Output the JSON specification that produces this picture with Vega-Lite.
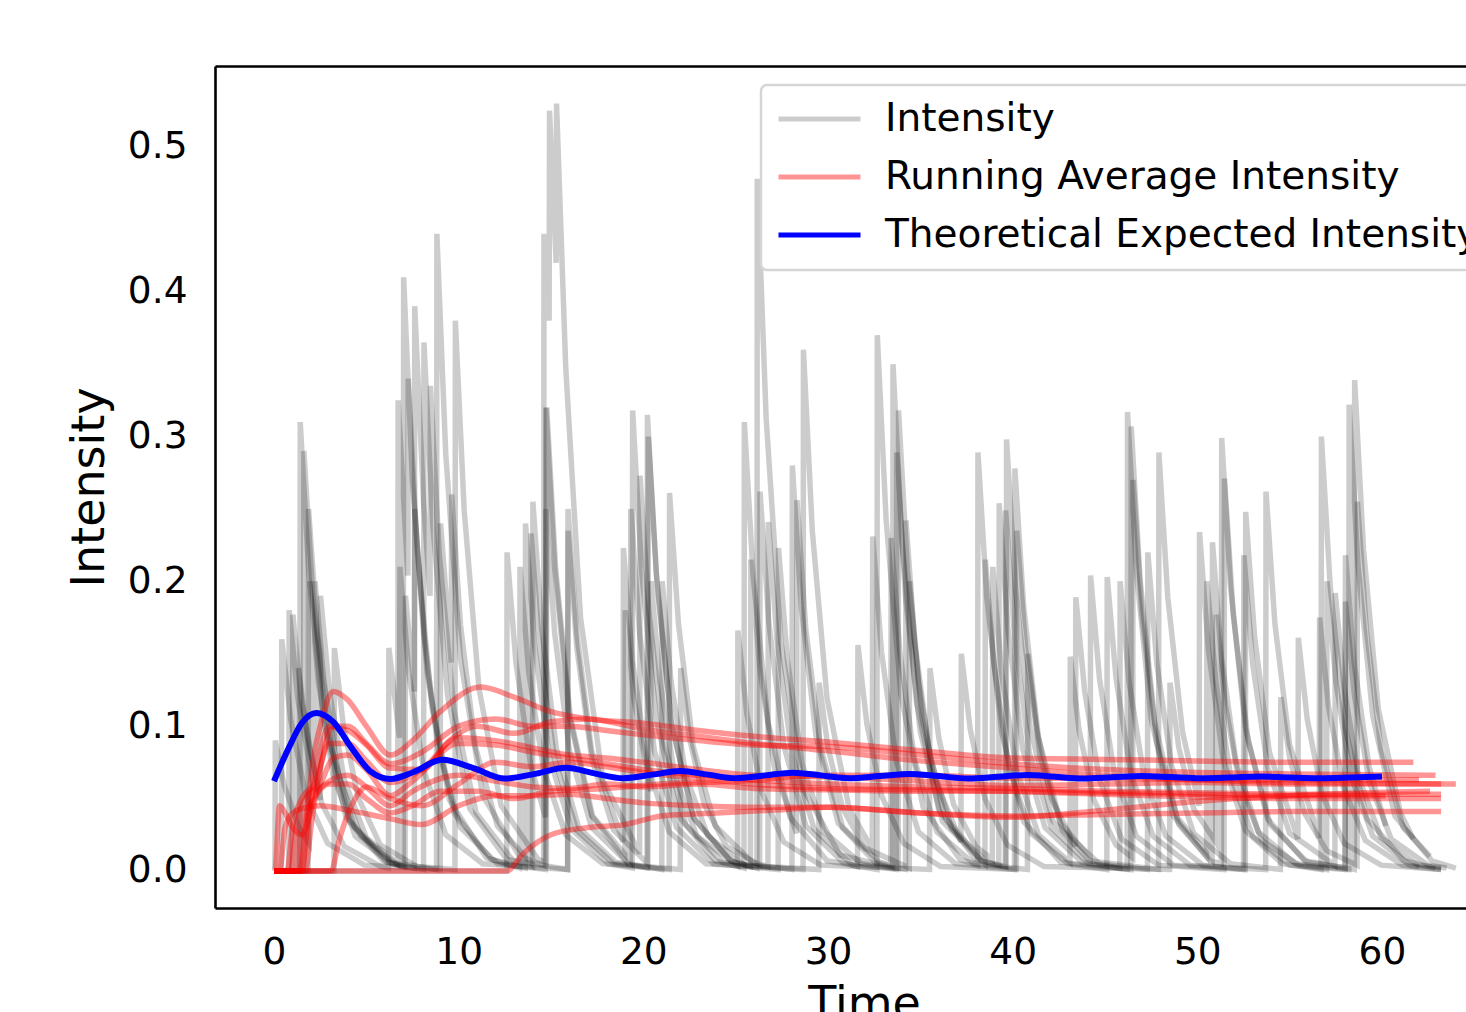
{
"$schema": "https://vega.github.io/schema/vega-lite/v6.json",
"width": 1251, "height": 842,
"autosize": {"type": "none"},
"padding": {"left": 215, "top": 66, "right": 0, "bottom": 104},
"background": "white",
"config": {
 "view": {"stroke": null},
 "font": "DejaVu Sans",
 "axis": {"grid": false, "ticks": false, "domainColor": "black", "domainWidth": 2.6, "labelColor": "black", "labelFontSize": 37.5, "labelFont": "DejaVu Sans", "titleFont": "DejaVu Sans", "titleFontSize": 46, "titleFontWeight": "normal", "titleColor": "black"},
 "legend": {"strokeWidth": 2.5}
},
"datasets": {
"gray": [
{"s":1,"t":0,"v":0},{"s":1,"t":1.4,"v":0},{"s":1,"t":1.42,"v":0.31},{"s":1,"t":1.9,"v":0.203},{"s":1,"t":2.7,"v":0.103},{"s":1,"t":3.9,"v":0.037},{"s":1,"t":5.9,"v":0.007},{"s":1,"t":7,"v":0.003},{"s":1,"t":7.02,"v":0.41},{"s":1,"t":7.5,"v":0.268},{"s":1,"t":8.3,"v":0.136},{"s":1,"t":9.5,"v":0.049},{"s":1,"t":11.5,"v":0.009},{"s":1,"t":13.6,"v":0.002},{"s":1,"t":13.62,"v":0.24},{"s":1,"t":14.1,"v":0.157},{"s":1,"t":14.9,"v":0.079},{"s":1,"t":16.1,"v":0.029},{"s":1,"t":18.1,"v":0.005},{"s":1,"t":19.4,"v":0.002},{"s":1,"t":19.42,"v":0.318},{"s":1,"t":19.9,"v":0.208},{"s":1,"t":20.7,"v":0.105},{"s":1,"t":21.9,"v":0.038},{"s":1,"t":23.9,"v":0.007},{"s":1,"t":25.45,"v":0.002},{"s":1,"t":25.47,"v":0.31},{"s":1,"t":25.95,"v":0.203},{"s":1,"t":26.75,"v":0.103},{"s":1,"t":27.95,"v":0.037},{"s":1,"t":29.95,"v":0.007},{"s":1,"t":32.65,"v":0.001},{"s":1,"t":32.67,"v":0.37},{"s":1,"t":33.15,"v":0.242},{"s":1,"t":33.95,"v":0.122},{"s":1,"t":35.15,"v":0.044},{"s":1,"t":37.15,"v":0.008},{"s":1,"t":38.1,"v":0.004},{"s":1,"t":38.12,"v":0.289},{"s":1,"t":38.6,"v":0.189},{"s":1,"t":39.4,"v":0.096},{"s":1,"t":40.6,"v":0.034},{"s":1,"t":42.6,"v":0.006},{"s":1,"t":46.2,"v":0.001},{"s":1,"t":46.22,"v":0.317},{"s":1,"t":46.7,"v":0.207},{"s":1,"t":47.5,"v":0.105},{"s":1,"t":48.7,"v":0.038},{"s":1,"t":50.7,"v":0.007},{"s":1,"t":51.3,"v":0.005},{"s":1,"t":51.32,"v":0.299},{"s":1,"t":51.8,"v":0.196},{"s":1,"t":52.6,"v":0.099},{"s":1,"t":53.8,"v":0.036},{"s":1,"t":55.8,"v":0.007},{"s":1,"t":58.5,"v":0.001},{"s":1,"t":58.52,"v":0.339},{"s":1,"t":59,"v":0.222},{"s":1,"t":59.8,"v":0.112},{"s":1,"t":61,"v":0.04},{"s":1,"t":61.7,"v":0.022},
{"s":2,"t":0,"v":0},{"s":2,"t":1.6,"v":0},{"s":2,"t":1.62,"v":0.29},{"s":2,"t":2.1,"v":0.19},{"s":2,"t":2.9,"v":0.096},{"s":2,"t":4.1,"v":0.035},{"s":2,"t":6.1,"v":0.006},{"s":2,"t":7.6,"v":0.002},{"s":2,"t":7.62,"v":0.39},{"s":2,"t":8.1,"v":0.255},{"s":2,"t":8.45,"v":0.19},{"s":2,"t":8.47,"v":0.335},{"s":2,"t":8.95,"v":0.219},{"s":2,"t":9.75,"v":0.111},{"s":2,"t":10.95,"v":0.04},{"s":2,"t":12.95,"v":0.007},{"s":2,"t":14,"v":0.003},{"s":2,"t":14.02,"v":0.255},{"s":2,"t":14.5,"v":0.167},{"s":2,"t":15.3,"v":0.084},{"s":2,"t":16.5,"v":0.03},{"s":2,"t":18.5,"v":0.006},{"s":2,"t":20.2,"v":0.002},{"s":2,"t":20.22,"v":0.315},{"s":2,"t":20.7,"v":0.206},{"s":2,"t":21.5,"v":0.104},{"s":2,"t":22.7,"v":0.037},{"s":2,"t":24.7,"v":0.007},{"s":2,"t":26.15,"v":0.002},{"s":2,"t":26.17,"v":0.478},{"s":2,"t":26.65,"v":0.313},{"s":2,"t":27.45,"v":0.158},{"s":2,"t":28.65,"v":0.057},{"s":2,"t":30.65,"v":0.011},{"s":2,"t":33.5,"v":0.002},{"s":2,"t":33.52,"v":0.35},{"s":2,"t":34,"v":0.229},{"s":2,"t":34.8,"v":0.116},{"s":2,"t":36,"v":0.042},{"s":2,"t":38,"v":0.008},{"s":2,"t":39.65,"v":0.003},{"s":2,"t":39.67,"v":0.298},{"s":2,"t":40.15,"v":0.195},{"s":2,"t":40.95,"v":0.099},{"s":2,"t":42.15,"v":0.035},{"s":2,"t":44.15,"v":0.007},{"s":2,"t":47.9,"v":0.001},{"s":2,"t":47.92,"v":0.289},{"s":2,"t":48.4,"v":0.189},{"s":2,"t":49.2,"v":0.096},{"s":2,"t":50.1,"v":0.045},{"s":2,"t":50.12,"v":0.234},{"s":2,"t":50.6,"v":0.153},{"s":2,"t":51.4,"v":0.077},{"s":2,"t":52.6,"v":0.028},{"s":2,"t":54.6,"v":0.005},{"s":2,"t":56.7,"v":0.001},{"s":2,"t":56.72,"v":0.3},{"s":2,"t":57.2,"v":0.196},{"s":2,"t":58,"v":0.099},{"s":2,"t":59.2,"v":0.036},{"s":2,"t":61.2,"v":0.007},{"s":2,"t":62.9,"v":0.002},
{"s":3,"t":0,"v":0},{"s":3,"t":1.85,"v":0},{"s":3,"t":1.87,"v":0.25},{"s":3,"t":2.35,"v":0.164},{"s":3,"t":3.15,"v":0.083},{"s":3,"t":4.35,"v":0.03},{"s":3,"t":6.35,"v":0.006},{"s":3,"t":8.8,"v":0.001},{"s":3,"t":8.82,"v":0.44},{"s":3,"t":9.3,"v":0.288},{"s":3,"t":10.1,"v":0.146},{"s":3,"t":11.3,"v":0.052},{"s":3,"t":13.3,"v":0.01},{"s":3,"t":14.6,"v":0.004},{"s":3,"t":14.62,"v":0.44},{"s":3,"t":14.9,"v":0.38},{"s":3,"t":14.92,"v":0.525},{"s":3,"t":15.28,"v":0.42},{"s":3,"t":15.3,"v":0.53},{"s":3,"t":15.8,"v":0.347},{"s":3,"t":16.6,"v":0.175},{"s":3,"t":17.8,"v":0.063},{"s":3,"t":19.8,"v":0.012},{"s":3,"t":19.82,"v":0.273},{"s":3,"t":20.3,"v":0.179},{"s":3,"t":21.1,"v":0.09},{"s":3,"t":22.3,"v":0.032},{"s":3,"t":24.3,"v":0.006},{"s":3,"t":28.05,"v":0.001},{"s":3,"t":28.07,"v":0.28},{"s":3,"t":28.55,"v":0.183},{"s":3,"t":29.35,"v":0.093},{"s":3,"t":30.55,"v":0.033},{"s":3,"t":32.55,"v":0.006},{"s":3,"t":33.8,"v":0.002},{"s":3,"t":33.82,"v":0.318},{"s":3,"t":34.3,"v":0.208},{"s":3,"t":35.1,"v":0.105},{"s":3,"t":36.3,"v":0.038},{"s":3,"t":38.3,"v":0.007},{"s":3,"t":39.25,"v":0.004},{"s":3,"t":39.27,"v":0.254},{"s":3,"t":39.75,"v":0.166},{"s":3,"t":40.55,"v":0.084},{"s":3,"t":41.75,"v":0.03},{"s":3,"t":43.75,"v":0.006},{"s":3,"t":46.4,"v":0.001},{"s":3,"t":46.42,"v":0.307},{"s":3,"t":46.9,"v":0.201},{"s":3,"t":47.7,"v":0.102},{"s":3,"t":48.9,"v":0.037},{"s":3,"t":50.8,"v":0.008},{"s":3,"t":50.82,"v":0.227},{"s":3,"t":51.3,"v":0.148},{"s":3,"t":52.1,"v":0.075},{"s":3,"t":53.3,"v":0.027},{"s":3,"t":55.3,"v":0.005},{"s":3,"t":58.2,"v":0.001},{"s":3,"t":58.22,"v":0.322},{"s":3,"t":58.7,"v":0.211},{"s":3,"t":59.5,"v":0.107},{"s":3,"t":60.7,"v":0.038},{"s":3,"t":62.7,"v":0.007},{"s":3,"t":64,"v":0.002},
{"s":4,"t":0,"v":0},{"s":4,"t":0.8,"v":0},{"s":4,"t":0.82,"v":0.18},{"s":4,"t":1.3,"v":0.118},{"s":4,"t":2.2,"v":0.055},{"s":4,"t":2.22,"v":0.2},{"s":4,"t":2.7,"v":0.131},{"s":4,"t":3.5,"v":0.066},{"s":4,"t":4.7,"v":0.024},{"s":4,"t":6.7,"v":0.004},{"s":4,"t":8.1,"v":0.001},{"s":4,"t":8.12,"v":0.365},{"s":4,"t":8.6,"v":0.239},{"s":4,"t":9.4,"v":0.121},{"s":4,"t":10.6,"v":0.043},{"s":4,"t":12.6,"v":0.008},{"s":4,"t":15.9,"v":0.001},{"s":4,"t":15.92,"v":0.25},{"s":4,"t":16.4,"v":0.164},{"s":4,"t":17.2,"v":0.083},{"s":4,"t":18.9,"v":0.02},{"s":4,"t":18.92,"v":0.223},{"s":4,"t":19.4,"v":0.146},{"s":4,"t":20.2,"v":0.074},{"s":4,"t":21.4,"v":0.027},{"s":4,"t":23.4,"v":0.005},{"s":4,"t":28.65,"v":0.001},{"s":4,"t":28.67,"v":0.36},{"s":4,"t":29.15,"v":0.235},{"s":4,"t":29.95,"v":0.119},{"s":4,"t":31.15,"v":0.043},{"s":4,"t":32.4,"v":0.015},{"s":4,"t":32.42,"v":0.231},{"s":4,"t":32.9,"v":0.151},{"s":4,"t":33.7,"v":0.076},{"s":4,"t":34.9,"v":0.027},{"s":4,"t":36.9,"v":0.005},{"s":4,"t":40.1,"v":0.001},{"s":4,"t":40.12,"v":0.278},{"s":4,"t":40.6,"v":0.182},{"s":4,"t":41.4,"v":0.092},{"s":4,"t":42.6,"v":0.033},{"s":4,"t":44.2,"v":0.009},{"s":4,"t":44.22,"v":0.204},{"s":4,"t":44.7,"v":0.133},{"s":4,"t":45.5,"v":0.068},{"s":4,"t":46.7,"v":0.024},{"s":4,"t":48.7,"v":0.004},{"s":4,"t":52.6,"v":0.001},{"s":4,"t":52.62,"v":0.248},{"s":4,"t":53.1,"v":0.162},{"s":4,"t":53.9,"v":0.082},{"s":4,"t":55.45,"v":0.022},{"s":4,"t":55.47,"v":0.161},{"s":4,"t":55.95,"v":0.105},{"s":4,"t":56.75,"v":0.053},{"s":4,"t":57.95,"v":0.019},{"s":4,"t":59.95,"v":0.004},{"s":4,"t":63.2,"v":0.001},
{"s":5,"t":0,"v":0},{"s":5,"t":1,"v":0},{"s":5,"t":1.02,"v":0.177},{"s":5,"t":1.5,"v":0.116},{"s":5,"t":2.5,"v":0.049},{"s":5,"t":2.52,"v":0.19},{"s":5,"t":3,"v":0.124},{"s":5,"t":3.8,"v":0.063},{"s":5,"t":5,"v":0.023},{"s":5,"t":6.7,"v":0.005},{"s":5,"t":6.72,"v":0.325},{"s":5,"t":7.25,"v":0.204},{"s":5,"t":7.27,"v":0.34},{"s":5,"t":7.75,"v":0.222},{"s":5,"t":8.55,"v":0.113},{"s":5,"t":9.75,"v":0.04},{"s":5,"t":11.75,"v":0.008},{"s":5,"t":13.3,"v":0.002},{"s":5,"t":13.32,"v":0.21},{"s":5,"t":13.8,"v":0.137},{"s":5,"t":14.6,"v":0.07},{"s":5,"t":15.8,"v":0.025},{"s":5,"t":17.8,"v":0.005},{"s":5,"t":21.4,"v":0.001},{"s":5,"t":21.42,"v":0.261},{"s":5,"t":21.9,"v":0.171},{"s":5,"t":22.7,"v":0.086},{"s":5,"t":23.9,"v":0.031},{"s":5,"t":25.9,"v":0.006},{"s":5,"t":26.75,"v":0.003},{"s":5,"t":26.77,"v":0.241},{"s":5,"t":27.25,"v":0.158},{"s":5,"t":28.05,"v":0.08},{"s":5,"t":29.25,"v":0.029},{"s":5,"t":31.25,"v":0.005},{"s":5,"t":33.7,"v":0.001},{"s":5,"t":33.72,"v":0.289},{"s":5,"t":34.2,"v":0.189},{"s":5,"t":35,"v":0.096},{"s":5,"t":36.2,"v":0.034},{"s":5,"t":38.5,"v":0.005},{"s":5,"t":38.52,"v":0.215},{"s":5,"t":39,"v":0.141},{"s":5,"t":39.8,"v":0.071},{"s":5,"t":41,"v":0.026},{"s":5,"t":43,"v":0.005},{"s":5,"t":45.1,"v":0.001},{"s":5,"t":45.12,"v":0.203},{"s":5,"t":45.6,"v":0.133},{"s":5,"t":46.4,"v":0.067},{"s":5,"t":47.6,"v":0.024},{"s":5,"t":49.6,"v":0.004},{"s":5,"t":53.7,"v":0.001},{"s":5,"t":53.72,"v":0.262},{"s":5,"t":54.2,"v":0.171},{"s":5,"t":55,"v":0.087},{"s":5,"t":56.6,"v":0.023},{"s":5,"t":56.62,"v":0.175},{"s":5,"t":57.1,"v":0.114},{"s":5,"t":57.9,"v":0.058},{"s":5,"t":59.1,"v":0.021},{"s":5,"t":61.1,"v":0.004},{"s":5,"t":63.2,"v":0.001},
{"s":6,"t":0,"v":0},{"s":6,"t":3.25,"v":0},{"s":6,"t":3.27,"v":0.154},{"s":6,"t":3.75,"v":0.101},{"s":6,"t":4.55,"v":0.051},{"s":6,"t":5.75,"v":0.018},{"s":6,"t":7.75,"v":0.003},{"s":6,"t":9.8,"v":0.001},{"s":6,"t":9.82,"v":0.38},{"s":6,"t":10.3,"v":0.249},{"s":6,"t":11.1,"v":0.126},{"s":6,"t":12.3,"v":0.045},{"s":6,"t":14.3,"v":0.008},{"s":6,"t":14.75,"v":0.006},{"s":6,"t":14.77,"v":0.32},{"s":6,"t":15.25,"v":0.209},{"s":6,"t":16.05,"v":0.106},{"s":6,"t":17.25,"v":0.038},{"s":6,"t":19.3,"v":0.007},{"s":6,"t":19.32,"v":0.25},{"s":6,"t":19.8,"v":0.164},{"s":6,"t":20.6,"v":0.083},{"s":6,"t":21.8,"v":0.03},{"s":6,"t":23.8,"v":0.005},{"s":6,"t":27.3,"v":0.001},{"s":6,"t":27.32,"v":0.223},{"s":6,"t":27.8,"v":0.146},{"s":6,"t":28.6,"v":0.074},{"s":6,"t":29.8,"v":0.027},{"s":6,"t":31.8,"v":0.005},{"s":6,"t":34.2,"v":0.001},{"s":6,"t":34.22,"v":0.242},{"s":6,"t":34.7,"v":0.158},{"s":6,"t":35.5,"v":0.08},{"s":6,"t":36.7,"v":0.029},{"s":6,"t":38.7,"v":0.005},{"s":6,"t":39.6,"v":0.003},{"s":6,"t":39.62,"v":0.249},{"s":6,"t":40.1,"v":0.163},{"s":6,"t":40.9,"v":0.082},{"s":6,"t":42.1,"v":0.03},{"s":6,"t":44.1,"v":0.005},{"s":6,"t":45.8,"v":0.002},{"s":6,"t":45.82,"v":0.2},{"s":6,"t":46.3,"v":0.131},{"s":6,"t":47.1,"v":0.066},{"s":6,"t":48.3,"v":0.024},{"s":6,"t":50.3,"v":0.004},{"s":6,"t":52.5,"v":0.001},{"s":6,"t":52.52,"v":0.218},{"s":6,"t":53,"v":0.143},{"s":6,"t":53.8,"v":0.072},{"s":6,"t":55,"v":0.026},{"s":6,"t":57.45,"v":0.004},{"s":6,"t":57.47,"v":0.192},{"s":6,"t":57.95,"v":0.126},{"s":6,"t":58.75,"v":0.064},{"s":6,"t":59.95,"v":0.023},{"s":6,"t":61.95,"v":0.004},{"s":6,"t":63.2,"v":0.002},
{"s":7,"t":0,"v":0},{"s":7,"t":1.3,"v":0},{"s":7,"t":1.32,"v":0.14},{"s":7,"t":1.8,"v":0.092},{"s":7,"t":2.6,"v":0.046},{"s":7,"t":3.8,"v":0.017},{"s":7,"t":5.8,"v":0.003},{"s":7,"t":6.2,"v":0.002},{"s":7,"t":6.22,"v":0.154},{"s":7,"t":6.8,"v":0.092},{"s":7,"t":6.82,"v":0.21},{"s":7,"t":7.3,"v":0.137},{"s":7,"t":8.1,"v":0.07},{"s":7,"t":9.3,"v":0.025},{"s":7,"t":11.3,"v":0.005},{"s":7,"t":15.9,"v":0.001},{"s":7,"t":15.92,"v":0.235},{"s":7,"t":16.4,"v":0.154},{"s":7,"t":17.2,"v":0.078},{"s":7,"t":18.4,"v":0.028},{"s":7,"t":20.25,"v":0.005},{"s":7,"t":20.27,"v":0.3},{"s":7,"t":20.75,"v":0.196},{"s":7,"t":21.55,"v":0.099},{"s":7,"t":22.75,"v":0.036},{"s":7,"t":24.75,"v":0.007},{"s":7,"t":25.8,"v":0.003},{"s":7,"t":25.82,"v":0.215},{"s":7,"t":26.3,"v":0.141},{"s":7,"t":27.1,"v":0.071},{"s":7,"t":28.3,"v":0.026},{"s":7,"t":28.32,"v":0.256},{"s":7,"t":28.8,"v":0.167},{"s":7,"t":29.6,"v":0.085},{"s":7,"t":30.8,"v":0.03},{"s":7,"t":32.8,"v":0.006},{"s":7,"t":33.4,"v":0.004},{"s":7,"t":33.42,"v":0.23},{"s":7,"t":33.9,"v":0.15},{"s":7,"t":34.7,"v":0.076},{"s":7,"t":35.9,"v":0.027},{"s":7,"t":37.9,"v":0.005},{"s":7,"t":40.8,"v":0.001},{"s":7,"t":40.82,"v":0.15},{"s":7,"t":41.3,"v":0.098},{"s":7,"t":42.1,"v":0.05},{"s":7,"t":43.4,"v":0.017},{"s":7,"t":43.42,"v":0.189},{"s":7,"t":43.9,"v":0.124},{"s":7,"t":44.7,"v":0.063},{"s":7,"t":45.9,"v":0.022},{"s":7,"t":47.9,"v":0.004},{"s":7,"t":51.45,"v":0.001},{"s":7,"t":51.47,"v":0.271},{"s":7,"t":51.95,"v":0.177},{"s":7,"t":52.75,"v":0.09},{"s":7,"t":53.95,"v":0.032},{"s":7,"t":55.95,"v":0.006},{"s":7,"t":58,"v":0.002},{"s":7,"t":58.02,"v":0.218},{"s":7,"t":58.5,"v":0.143},{"s":7,"t":59.3,"v":0.072},{"s":7,"t":60.2,"v":0.031},
{"s":8,"t":0,"v":0},{"s":8,"t":0.4,"v":0},{"s":8,"t":0.42,"v":0.16},{"s":8,"t":0.9,"v":0.105},{"s":8,"t":1.7,"v":0.053},{"s":8,"t":2.9,"v":0.019},{"s":8,"t":4.9,"v":0.004},{"s":8,"t":9,"v":0.001},{"s":8,"t":9.02,"v":0.24},{"s":8,"t":9.6,"v":0.144},{"s":8,"t":9.62,"v":0.26},{"s":8,"t":10.1,"v":0.17},{"s":8,"t":10.9,"v":0.086},{"s":8,"t":12.1,"v":0.031},{"s":8,"t":13.9,"v":0.006},{"s":8,"t":13.92,"v":0.233},{"s":8,"t":14.4,"v":0.152},{"s":8,"t":15.2,"v":0.077},{"s":8,"t":16.4,"v":0.028},{"s":8,"t":18.4,"v":0.005},{"s":8,"t":22,"v":0.001},{"s":8,"t":22.02,"v":0.14},{"s":8,"t":22.5,"v":0.092},{"s":8,"t":23.3,"v":0.046},{"s":8,"t":24.5,"v":0.017},{"s":8,"t":26.3,"v":0.004},{"s":8,"t":26.32,"v":0.262},{"s":8,"t":26.8,"v":0.171},{"s":8,"t":27.6,"v":0.087},{"s":8,"t":28.8,"v":0.031},{"s":8,"t":30.8,"v":0.006},{"s":8,"t":31.6,"v":0.003},{"s":8,"t":31.62,"v":0.156},{"s":8,"t":32.1,"v":0.102},{"s":8,"t":32.9,"v":0.052},{"s":8,"t":34.1,"v":0.019},{"s":8,"t":36.1,"v":0.003},{"s":8,"t":40.2,"v":0.001},{"s":8,"t":40.22,"v":0.235},{"s":8,"t":40.7,"v":0.154},{"s":8,"t":41.5,"v":0.078},{"s":8,"t":42.7,"v":0.028},{"s":8,"t":44.7,"v":0.005},{"s":8,"t":47.3,"v":0.001},{"s":8,"t":47.32,"v":0.22},{"s":8,"t":47.8,"v":0.144},{"s":8,"t":48.6,"v":0.073},{"s":8,"t":49.8,"v":0.026},{"s":8,"t":51.8,"v":0.005},{"s":8,"t":54.5,"v":0.001},{"s":8,"t":54.52,"v":0.12},{"s":8,"t":55,"v":0.078},{"s":8,"t":55.8,"v":0.04},{"s":8,"t":57,"v":0.014},{"s":8,"t":58.65,"v":0.004},{"s":8,"t":58.67,"v":0.255},{"s":8,"t":59.15,"v":0.167},{"s":8,"t":59.95,"v":0.084},{"s":8,"t":61.15,"v":0.03},{"s":8,"t":62.6,"v":0.01},
{"s":9,"t":0,"v":0},{"s":9,"t":12.6,"v":0},{"s":9,"t":12.62,"v":0.22},{"s":9,"t":13.1,"v":0.144},{"s":9,"t":13.9,"v":0.073},{"s":9,"t":14.7,"v":0.037},{"s":9,"t":14.72,"v":0.32},{"s":9,"t":15.2,"v":0.209},{"s":9,"t":16,"v":0.106},{"s":9,"t":17.2,"v":0.038},{"s":9,"t":19,"v":0.008},{"s":9,"t":19.02,"v":0.18},{"s":9,"t":19.5,"v":0.118},{"s":9,"t":20.4,"v":0.055},{"s":9,"t":20.42,"v":0.2},{"s":9,"t":20.9,"v":0.131},{"s":9,"t":21.7,"v":0.066},{"s":9,"t":22.9,"v":0.024},{"s":9,"t":25.1,"v":0.004},{"s":9,"t":25.12,"v":0.166},{"s":9,"t":25.6,"v":0.109},{"s":9,"t":26.4,"v":0.055},{"s":9,"t":27.6,"v":0.02},{"s":9,"t":29.6,"v":0.004},{"s":9,"t":35.5,"v":0.001},{"s":9,"t":35.52,"v":0.14},{"s":9,"t":36,"v":0.092},{"s":9,"t":36.8,"v":0.046},{"s":9,"t":38,"v":0.017},{"s":9,"t":38.9,"v":0.008},{"s":9,"t":38.92,"v":0.21},{"s":9,"t":39.4,"v":0.137},{"s":9,"t":40.2,"v":0.07},{"s":9,"t":41.4,"v":0.025},{"s":9,"t":43.1,"v":0.006},{"s":9,"t":43.12,"v":0.148},{"s":9,"t":43.6,"v":0.097},{"s":9,"t":44.4,"v":0.049},{"s":9,"t":45.6,"v":0.018},{"s":9,"t":46.5,"v":0.009},{"s":9,"t":46.52,"v":0.27},{"s":9,"t":47,"v":0.177},{"s":9,"t":47.8,"v":0.089},{"s":9,"t":49,"v":0.032},{"s":9,"t":50.5,"v":0.01},{"s":9,"t":50.52,"v":0.2},{"s":9,"t":51,"v":0.131},{"s":9,"t":51.8,"v":0.066},{"s":9,"t":53,"v":0.024},{"s":9,"t":55,"v":0.004},{"s":9,"t":58,"v":0.001},{"s":9,"t":58.02,"v":0.186},{"s":9,"t":58.5,"v":0.122},{"s":9,"t":59.3,"v":0.062},{"s":9,"t":60.5,"v":0.022},{"s":9,"t":62.5,"v":0.004},{"s":9,"t":63.5,"v":0.002},
{"s":10,"t":0,"v":0},{"s":10,"t":0.05,"v":0},{"s":10,"t":0.07,"v":0.09},{"s":10,"t":0.55,"v":0.059},{"s":10,"t":1.35,"v":0.03},{"s":10,"t":1.9,"v":0.019},{"s":10,"t":1.92,"v":0.2},{"s":10,"t":2.4,"v":0.131},{"s":10,"t":3.2,"v":0.066},{"s":10,"t":4.4,"v":0.024},{"s":10,"t":6.4,"v":0.005},{"s":10,"t":7.1,"v":0.003},{"s":10,"t":7.12,"v":0.19},{"s":10,"t":7.6,"v":0.124},{"s":10,"t":7.62,"v":0.25},{"s":10,"t":8.1,"v":0.164},{"s":10,"t":8.9,"v":0.083},{"s":10,"t":10.1,"v":0.03},{"s":10,"t":12.1,"v":0.005},{"s":10,"t":14.7,"v":0.001},{"s":10,"t":14.72,"v":0.25},{"s":10,"t":15.2,"v":0.164},{"s":10,"t":16,"v":0.083},{"s":10,"t":17.2,"v":0.03},{"s":10,"t":19.2,"v":0.005},{"s":10,"t":21,"v":0.001},{"s":10,"t":21.02,"v":0.2},{"s":10,"t":21.5,"v":0.131},{"s":10,"t":22.3,"v":0.066},{"s":10,"t":23.5,"v":0.024},{"s":10,"t":25.5,"v":0.004},{"s":10,"t":29.5,"v":0.001},{"s":10,"t":29.52,"v":0.13},{"s":10,"t":30,"v":0.085},{"s":10,"t":30.8,"v":0.043},{"s":10,"t":32,"v":0.016},{"s":10,"t":34.4,"v":0.002},{"s":10,"t":34.42,"v":0.2},{"s":10,"t":34.9,"v":0.131},{"s":10,"t":35.7,"v":0.066},{"s":10,"t":37.2,"v":0.02},{"s":10,"t":37.22,"v":0.15},{"s":10,"t":37.7,"v":0.098},{"s":10,"t":38.5,"v":0.05},{"s":10,"t":39.7,"v":0.018},{"s":10,"t":41.7,"v":0.003},{"s":10,"t":48.5,"v":0.001},{"s":10,"t":48.52,"v":0.13},{"s":10,"t":49,"v":0.085},{"s":10,"t":49.8,"v":0.043},{"s":10,"t":51,"v":0.02},{"s":10,"t":51.02,"v":0.177},{"s":10,"t":51.5,"v":0.116},{"s":10,"t":52.3,"v":0.059},{"s":10,"t":53.5,"v":0.021},{"s":10,"t":55.5,"v":0.004},{"s":10,"t":57,"v":0.001},{"s":10,"t":57.02,"v":0.2},{"s":10,"t":57.5,"v":0.131},{"s":10,"t":58.3,"v":0.066},{"s":10,"t":59.5,"v":0.024},{"s":10,"t":61.5,"v":0.004},{"s":10,"t":62,"v":0.003}
],
"red": [
{"s":1,"t":0,"v":0},{"s":1,"t":1.4,"v":0},{"s":1,"t":1.7,"v":0.03},{"s":1,"t":2.1,"v":0.075},{"s":1,"t":2.6,"v":0.105},{"s":1,"t":3.2,"v":0.124},{"s":1,"t":4,"v":0.118},{"s":1,"t":5,"v":0.1},{"s":1,"t":6.3,"v":0.08},{"s":1,"t":7.5,"v":0.09},{"s":1,"t":9,"v":0.11},{"s":1,"t":11.2,"v":0.127},{"s":1,"t":13,"v":0.12},{"s":1,"t":15,"v":0.11},{"s":1,"t":17,"v":0.105},{"s":1,"t":20,"v":0.102},{"s":1,"t":23,"v":0.097},{"s":1,"t":26,"v":0.093},{"s":1,"t":30,"v":0.089},{"s":1,"t":35,"v":0.083},{"s":1,"t":40,"v":0.078},{"s":1,"t":45,"v":0.077},{"s":1,"t":50,"v":0.076},{"s":1,"t":55,"v":0.075},{"s":1,"t":61.7,"v":0.075},
{"s":2,"t":0,"v":0},{"s":2,"t":1.5,"v":0},{"s":2,"t":1.8,"v":0.03},{"s":2,"t":2.3,"v":0.07},{"s":2,"t":3,"v":0.1},{"s":2,"t":4,"v":0.1},{"s":2,"t":5,"v":0.088},{"s":2,"t":6.3,"v":0.074},{"s":2,"t":8,"v":0.082},{"s":2,"t":10,"v":0.1},{"s":2,"t":12,"v":0.105},{"s":2,"t":14,"v":0.1},{"s":2,"t":16,"v":0.1},{"s":2,"t":18,"v":0.097},{"s":2,"t":20,"v":0.094},{"s":2,"t":23,"v":0.09},{"s":2,"t":26,"v":0.087},{"s":2,"t":30,"v":0.086},{"s":2,"t":35,"v":0.08},{"s":2,"t":40,"v":0.074},{"s":2,"t":45,"v":0.07},{"s":2,"t":50,"v":0.068},{"s":2,"t":55,"v":0.067},{"s":2,"t":62.9,"v":0.066},
{"s":3,"t":0,"v":0},{"s":3,"t":1.7,"v":0},{"s":3,"t":2,"v":0.03},{"s":3,"t":2.5,"v":0.07},{"s":3,"t":3.2,"v":0.099},{"s":3,"t":4,"v":0.097},{"s":3,"t":5,"v":0.087},{"s":3,"t":6.3,"v":0.071},{"s":3,"t":8,"v":0.07},{"s":3,"t":9.5,"v":0.09},{"s":3,"t":11,"v":0.1},{"s":3,"t":13,"v":0.095},{"s":3,"t":15,"v":0.103},{"s":3,"t":17,"v":0.105},{"s":3,"t":20,"v":0.098},{"s":3,"t":23,"v":0.093},{"s":3,"t":26,"v":0.088},{"s":3,"t":30,"v":0.083},{"s":3,"t":35,"v":0.076},{"s":3,"t":40,"v":0.071},{"s":3,"t":45,"v":0.066},{"s":3,"t":50,"v":0.063},{"s":3,"t":55,"v":0.061},{"s":3,"t":64,"v":0.06},
{"s":4,"t":0,"v":0},{"s":4,"t":0.7,"v":0},{"s":4,"t":1,"v":0.03},{"s":4,"t":1.5,"v":0.05},{"s":4,"t":2.2,"v":0.06},{"s":4,"t":3,"v":0.088},{"s":4,"t":4,"v":0.088},{"s":4,"t":5,"v":0.076},{"s":4,"t":6.3,"v":0.061},{"s":4,"t":8,"v":0.07},{"s":4,"t":10,"v":0.092},{"s":4,"t":12,"v":0.09},{"s":4,"t":14,"v":0.085},{"s":4,"t":16,"v":0.08},{"s":4,"t":18,"v":0.078},{"s":4,"t":20,"v":0.075},{"s":4,"t":23,"v":0.07},{"s":4,"t":26,"v":0.066},{"s":4,"t":30,"v":0.065},{"s":4,"t":35,"v":0.062},{"s":4,"t":40,"v":0.059},{"s":4,"t":45,"v":0.06},{"s":4,"t":50,"v":0.061},{"s":4,"t":55,"v":0.06},{"s":4,"t":63.2,"v":0.06},
{"s":5,"t":0,"v":0},{"s":5,"t":0.9,"v":0},{"s":5,"t":1.2,"v":0.03},{"s":5,"t":1.7,"v":0.05},{"s":5,"t":2.5,"v":0.06},{"s":5,"t":3.2,"v":0.078},{"s":5,"t":4,"v":0.08},{"s":5,"t":5,"v":0.07},{"s":5,"t":6.3,"v":0.052},{"s":5,"t":7.5,"v":0.062},{"s":5,"t":10,"v":0.088},{"s":5,"t":12,"v":0.087},{"s":5,"t":14,"v":0.082},{"s":5,"t":16,"v":0.078},{"s":5,"t":18,"v":0.074},{"s":5,"t":20,"v":0.07},{"s":5,"t":23,"v":0.066},{"s":5,"t":26,"v":0.063},{"s":5,"t":30,"v":0.06},{"s":5,"t":35,"v":0.058},{"s":5,"t":40,"v":0.057},{"s":5,"t":45,"v":0.055},{"s":5,"t":50,"v":0.054},{"s":5,"t":55,"v":0.053},{"s":5,"t":63.2,"v":0.053},
{"s":6,"t":0,"v":0},{"s":6,"t":3.1,"v":0},{"s":6,"t":3.5,"v":0.02},{"s":6,"t":4.2,"v":0.045},{"s":6,"t":5,"v":0.058},{"s":6,"t":6.3,"v":0.05},{"s":6,"t":8,"v":0.045},{"s":6,"t":10,"v":0.06},{"s":6,"t":12,"v":0.075},{"s":6,"t":14,"v":0.072},{"s":6,"t":16,"v":0.075},{"s":6,"t":18,"v":0.072},{"s":6,"t":20,"v":0.068},{"s":6,"t":23,"v":0.064},{"s":6,"t":26,"v":0.06},{"s":6,"t":30,"v":0.057},{"s":6,"t":35,"v":0.056},{"s":6,"t":40,"v":0.055},{"s":6,"t":45,"v":0.053},{"s":6,"t":50,"v":0.051},{"s":6,"t":55,"v":0.05},{"s":6,"t":63.2,"v":0.05},
{"s":7,"t":0,"v":0},{"s":7,"t":1.2,"v":0},{"s":7,"t":1.5,"v":0.03},{"s":7,"t":2.1,"v":0.05},{"s":7,"t":3,"v":0.062},{"s":7,"t":4,"v":0.066},{"s":7,"t":5,"v":0.058},{"s":7,"t":6.3,"v":0.045},{"s":7,"t":7.5,"v":0.055},{"s":7,"t":10,"v":0.066},{"s":7,"t":12,"v":0.062},{"s":7,"t":14,"v":0.058},{"s":7,"t":16,"v":0.057},{"s":7,"t":18,"v":0.06},{"s":7,"t":20,"v":0.058},{"s":7,"t":23,"v":0.06},{"s":7,"t":26,"v":0.057},{"s":7,"t":30,"v":0.056},{"s":7,"t":35,"v":0.055},{"s":7,"t":40,"v":0.055},{"s":7,"t":45,"v":0.054},{"s":7,"t":50,"v":0.053},{"s":7,"t":55,"v":0.052},{"s":7,"t":60.2,"v":0.052},
{"s":8,"t":0,"v":0},{"s":8,"t":0.3,"v":0},{"s":8,"t":0.6,"v":0.03},{"s":8,"t":1,"v":0.04},{"s":8,"t":1.5,"v":0.043},{"s":8,"t":2.5,"v":0.045},{"s":8,"t":4,"v":0.042},{"s":8,"t":6.3,"v":0.036},{"s":8,"t":8,"v":0.032},{"s":8,"t":10,"v":0.045},{"s":8,"t":12,"v":0.052},{"s":8,"t":14,"v":0.052},{"s":8,"t":16,"v":0.053},{"s":8,"t":18,"v":0.05},{"s":8,"t":20,"v":0.047},{"s":8,"t":23,"v":0.045},{"s":8,"t":26,"v":0.044},{"s":8,"t":30,"v":0.044},{"s":8,"t":35,"v":0.04},{"s":8,"t":40,"v":0.038},{"s":8,"t":45,"v":0.039},{"s":8,"t":50,"v":0.04},{"s":8,"t":55,"v":0.041},{"s":8,"t":63.2,"v":0.041},
{"s":9,"t":0,"v":0},{"s":9,"t":12.6,"v":0},{"s":9,"t":13.5,"v":0.012},{"s":9,"t":15,"v":0.025},{"s":9,"t":17,"v":0.03},{"s":9,"t":19,"v":0.032},{"s":9,"t":21,"v":0.038},{"s":9,"t":24,"v":0.04},{"s":9,"t":27,"v":0.042},{"s":9,"t":30,"v":0.044},{"s":9,"t":35,"v":0.04},{"s":9,"t":40,"v":0.037},{"s":9,"t":45,"v":0.042},{"s":9,"t":50,"v":0.048},{"s":9,"t":55,"v":0.052},{"s":9,"t":62.6,"v":0.055},
{"s":10,"t":0,"v":0},{"s":10,"t":0.05,"v":0},{"s":10,"t":0.3,"v":0.045},{"s":10,"t":0.6,"v":0.04},{"s":10,"t":1,"v":0.03},{"s":10,"t":1.5,"v":0.025},{"s":10,"t":2.2,"v":0.05},{"s":10,"t":3,"v":0.06},{"s":10,"t":4,"v":0.06},{"s":10,"t":5,"v":0.05},{"s":10,"t":6.3,"v":0.04},{"s":10,"t":7.5,"v":0.045},{"s":10,"t":9,"v":0.055},{"s":10,"t":11,"v":0.055},{"s":10,"t":13,"v":0.05},{"s":10,"t":15,"v":0.055},{"s":10,"t":18,"v":0.057},{"s":10,"t":21,"v":0.06},{"s":10,"t":25,"v":0.062},{"s":10,"t":30,"v":0.066},{"s":10,"t":35,"v":0.066},{"s":10,"t":40,"v":0.064},{"s":10,"t":45,"v":0.064},{"s":10,"t":50,"v":0.063},{"s":10,"t":55,"v":0.063},{"s":10,"t":62,"v":0.063}
],
"blue": [
{"t":0,"v":0.062},{"t":0.8,"v":0.085},{"t":1.5,"v":0.102},{"t":2.3,"v":0.109},{"t":3.2,"v":0.103},{"t":4.2,"v":0.085},{"t":5.2,"v":0.069},{"t":6.3,"v":0.0635},{"t":7.5,"v":0.068},{"t":9.1,"v":0.0767},{"t":10.8,"v":0.071},{"t":12.5,"v":0.0638},{"t":14.2,"v":0.0672},{"t":15.8,"v":0.0712},{"t":17.4,"v":0.0672},{"t":18.9,"v":0.064},{"t":20.5,"v":0.0665},{"t":22,"v":0.069},{"t":23.5,"v":0.0665},{"t":25,"v":0.064},{"t":26.6,"v":0.066},{"t":28.1,"v":0.0678},{"t":29.6,"v":0.066},{"t":31.1,"v":0.064},{"t":32.8,"v":0.0655},{"t":34.4,"v":0.067},{"t":36,"v":0.0655},{"t":37.6,"v":0.0638},{"t":39.2,"v":0.065},{"t":40.8,"v":0.0663},{"t":42.3,"v":0.065},{"t":43.8,"v":0.0638},{"t":45.4,"v":0.0647},{"t":47,"v":0.0656},{"t":48.6,"v":0.0648},{"t":50.2,"v":0.064},{"t":51.8,"v":0.0645},{"t":53.4,"v":0.0652},{"t":55,"v":0.0645},{"t":56.6,"v":0.064},{"t":58.3,"v":0.0645},{"t":60,"v":0.0652}
]
},
"layer": [
 {
  "data": {"name": "gray"},
  "mark": {"type": "line", "strokeWidth": 5.5, "clip": true},
  "encoding": {
   "x": {"field": "t", "type": "quantitative", "scale": {"domain": [-3.195, 64.55], "nice": false, "zero": false},
         "axis": {"orient": "bottom", "values": [0,10,20,30,40,50,60], "format": "d", "labelPadding": 25, "title": "Time", "titleX": 649, "titlePadding": 12, "domain": true}},
   "y": {"field": "v", "type": "quantitative", "scale": {"domain": [-0.0256, 0.5559], "nice": false, "zero": false},
         "axis": {"values": [0,0.1,0.2,0.3,0.4,0.5], "format": ".1f", "labelPadding": 28, "title": "Intensity", "titlePadding": 14, "domain": true}},
   "detail": {"field": "s"},
   "color": {"datum": "Intensity", "type": "nominal",
     "scale": {"domain": ["Intensity", "Running Average Intensity", "Theoretical Expected Intensity"], "range": ["rgba(0,0,0,0.2)", "rgba(255,0,0,0.42)", "#0000ff"]},
     "legend": {"orient": "none", "legendX": 546, "legendY": 19, "title": null, "direction": "vertical", "symbolType": "stroke", "symbolSize": 6724, "symbolStrokeWidth": 5, "labelFontSize": 39, "labelFont": "DejaVu Sans", "labelColor": "black", "labelLimit": 3000, "clipHeight": 38, "rowPadding": 19, "padding": 15, "labelOffset": 22, "fillColor": "white", "strokeColor": "#d5d5d5", "cornerRadius": 6}}
  }
 },
 {
  "data": {"name": "red"},
  "mark": {"type": "line", "strokeWidth": 5.5, "interpolate": "monotone", "clip": true},
  "encoding": {
   "x": {"field": "t", "type": "quantitative", "axis": {"orient": "top", "labels": false, "ticks": false, "title": null, "domain": true}},
   "y": {"field": "v", "type": "quantitative"},
   "detail": {"field": "s"},
   "color": {"datum": "Running Average Intensity", "type": "nominal"}
  }
 },
 {
  "data": {"name": "blue"},
  "mark": {"type": "line", "strokeWidth": 6, "interpolate": "monotone", "clip": true},
  "encoding": {
   "x": {"field": "t", "type": "quantitative", "axis": null},
   "y": {"field": "v", "type": "quantitative"},
   "color": {"datum": "Theoretical Expected Intensity", "type": "nominal"}
  }
 }
],
"resolve": {"axis": {"x": "independent"}}
}
